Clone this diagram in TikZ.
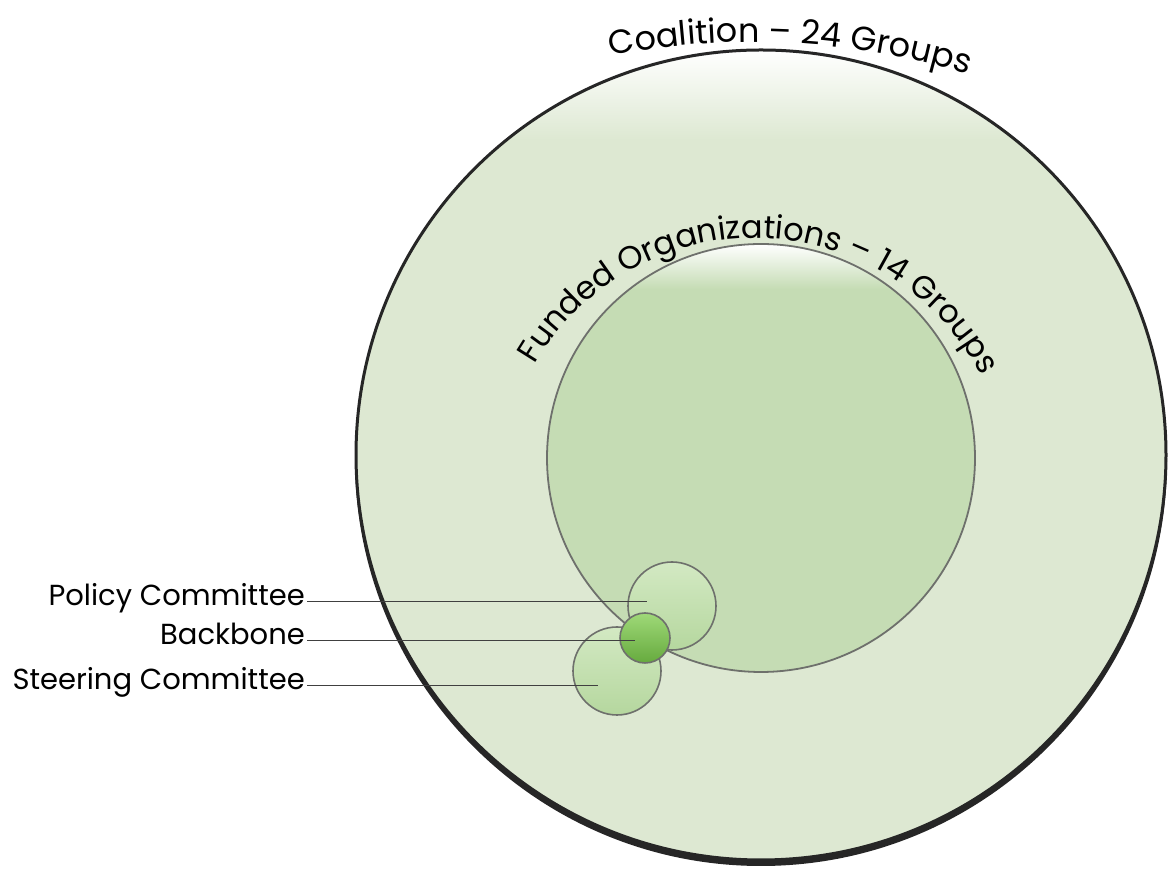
\documentclass[tikz,border=0pt]{standalone}
\usepackage{fontspec}
\setmainfont{Poppins}
\usetikzlibrary{decorations.text}

\definecolor{coalitionGreen}{HTML}{DDE8D2}
\definecolor{fundedGreen}{HTML}{C5DCB4}
\definecolor{committeeGreen}{HTML}{A8D08D}
\definecolor{committeeLight}{HTML}{D3E9C3}
\definecolor{backboneGreen}{HTML}{66AA3E}
\definecolor{backboneLight}{HTML}{9FD978}
\definecolor{rimGray}{HTML}{6E706C}

\newcommand{\labelFont}{\fontsize{29}{34}\selectfont}
\newcommand{\curvedFont}{\fontsize{32}{38}\selectfont}
\newcommand{\topFont}{\fontsize{33.5}{40}\selectfont}

\begin{document}
\begin{tikzpicture}[x=1pt,y=1pt,%%
  committeeStyle/.style={circle,inner sep=0pt,draw=rimGray,line width=1.6pt,%%
    top color=committeeLight,middle color=committeeGreen,bottom color=committeeGreen!85!white},%%
  backboneStyle/.style={circle,inner sep=0pt,draw=rimGray,line width=1.6pt,%%
    top color=backboneLight,middle color=backboneGreen!85!white,bottom color=backboneGreen},%%
  labelStyle/.style={anchor=east,inner sep=2pt,font=\labelFont,text height=0.7em,text depth=0pt},%%
  leaderStyle/.style={-,draw=black!75,line width=1pt}%%
]
%%
%%
\pgfmathsetmacro{\rOuter}{405}
\pgfmathsetmacro{\rInner}{214}
\pgfmathsetmacro{\rCommittee}{44}
\pgfmathsetmacro{\rBackbone}{25}
%%
\useasboundingbox (0,0) rectangle (1168,872);
\coordinate (coalition) at (761,417);
\coordinate (funded) at (761,414);
%% Centres of the two flatter arcs that carry the rim labels.
\coordinate (coalitionArc) at (752,97);
\coordinate (fundedArc) at (755,379);
%%
%% The coalition circle, with its dark rim and shadow.
\fill[black!85] ([yshift=-5pt]coalition) circle[radius=\rOuter+1];
\begin{scope}
  \clip (coalition) circle[radius=\rOuter];
  \fill[coalitionGreen] (coalition) circle[radius=\rOuter];
  \shade[top color=white,bottom color=coalitionGreen]
    ([shift={(-\rOuter,\rOuter)}]coalition) rectangle ++(2*\rOuter,-90);
\end{scope}
\draw[black!85,line width=3pt] (coalition) circle[radius=\rOuter];
%%
%% The funded organizations circle.
\begin{scope}
  \clip (funded) circle[radius=\rInner];
  \fill[fundedGreen] (funded) circle[radius=\rInner];
  \shade[top color=white,bottom color=fundedGreen]
    ([shift={(-\rInner,\rInner)}]funded) rectangle ++(2*\rInner,-45);
\end{scope}
\draw[rimGray,line width=1.8pt] (funded) circle[radius=\rInner];
%%
%% The committees and the backbone.
\node[committeeStyle,minimum size=2*\rCommittee] (steering) at (617,201) {};
\node[committeeStyle,minimum size=2*\rCommittee] (policy) at (672,266) {};
\node[backboneStyle,minimum size=2*\rBackbone] (backbone) at (645,234) {};
%%
%% Label the committees.
\node[labelStyle] (lblPolicy) at (307,270) {Policy Committee};
\node[labelStyle] (lblBackbone) at (307,231) {Backbone};
\node[labelStyle] (lblSteering) at (307,186) {Steering Committee};
\coordinate (policyEnd) at (647,270);
\coordinate (backboneEnd) at (635,231);
\coordinate (steeringEnd) at (598,186);
\draw[leaderStyle] (lblPolicy.east) -- (policyEnd);
\draw[leaderStyle] (lblBackbone.east) -- (backboneEnd);
\draw[leaderStyle] (lblSteering.east) -- (steeringEnd);
%%
%% Label the two large circles along arched baselines.
\path[decorate,decoration={text along path,text align=center,
    text={|\topFont|Coalition – 24 Groups}}]
  ([shift={(107:733)}]coalitionArc) arc[start angle=107,end angle=67,radius=733];
\path[decorate,decoration={text along path,text align=center,
    text={|\curvedFont|Funded Organizations – 14 Groups}}]
  ([shift={(168.5:255)}]fundedArc) arc[start angle=168.5,end angle=8.5,radius=255];
\end{tikzpicture}
\end{document}
